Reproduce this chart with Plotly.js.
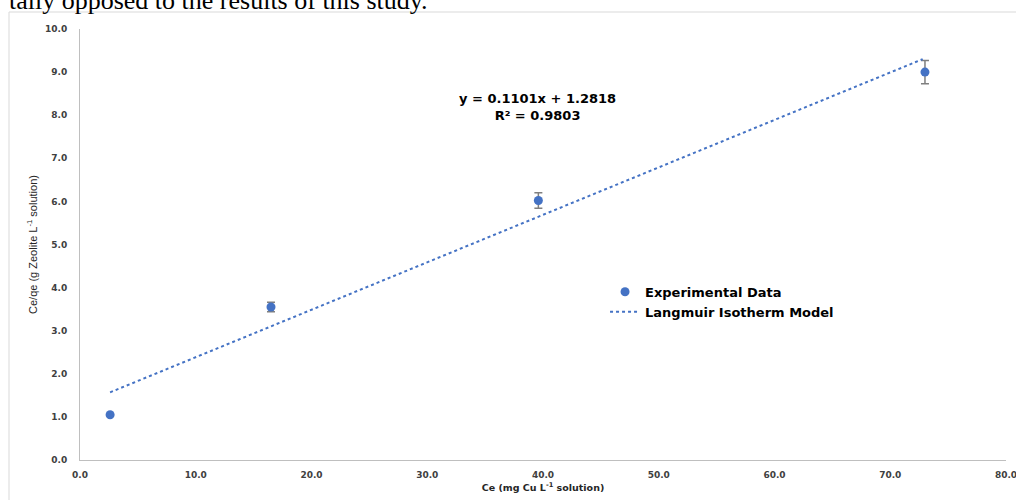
<!DOCTYPE html>
<html><head><meta charset="utf-8">
<script src="https://cdn.plot.ly/plotly-3.0.1.min.js"></script>
<style>html,body{margin:0;padding:0;background:#fff}#chart{width:1016px;height:500px}</style>
</head><body><div id="chart"></div>
<script>
// Experimental data
const ceValues = [2.6, 16.5, 39.6, 73.0];
const ceQeValues = [1.05, 3.55, 6.02, 9.0];
const errorValues = [0.0, 0.11, 0.18, 0.27];
// Langmuir trend line endpoints
const trendX = [2.6, 72.8];
const trendY = [1.57, 9.30];
const xTicks = [0, 10, 20, 30, 40, 50, 60, 70, 80];
const yTicks = [0, 1, 2, 3, 4, 5, 6, 7, 8, 9, 10];

const blue = '#4472C4';
const data = [
  {x: ceValues, y: ceQeValues, type: 'scatter', mode: 'markers', name: 'Experimental Data',
   marker: {color: blue, size: 9},
   error_y: {type: 'data', array: errorValues, visible: true, color: '#7f7f7f', thickness: 1.5, width: 4}},
  {x: trendX, y: trendY, type: 'scatter', mode: 'lines', name: 'Langmuir Isotherm Model',
   line: {color: blue, width: 2, dash: 'dot'}}
];
const tickFont = {family: 'DejaVu Sans', size: 9, color: '#404040', weight: 'bold'};
const layout = {
  width: 1016, height: 500,
  margin: {l: 80, r: 10, t: 29, b: 40},
  paper_bgcolor: '#fff', plot_bgcolor: '#fff',
  showlegend: true,
  legend: {x: 0.567, y: 0.425, xanchor: 'left', yanchor: 'top', bgcolor: 'rgba(0,0,0,0)',
           font: {family: 'DejaVu Sans', size: 13, color: '#000', weight: 'bold'}, tracegroupgap: 0},
  xaxis: {range: [0, 80], tickvals: xTicks, ticktext: xTicks.map(v => v.toFixed(1)),
          showgrid: false, zeroline: false, showline: true, linecolor: '#bfbfbf', linewidth: 1,
          ticks: '', tickfont: tickFont, ticklabelstandoff: 6, ticklabeloverflow: 'allow',
          title: {text: 'Ce (mg Cu L<sup>-1</sup> solution)', standoff: 5,
                  font: {family: 'DejaVu Sans', size: 9.5, color: '#262626', weight: 'bold'}}},
  yaxis: {range: [0, 10], tickvals: yTicks, ticktext: yTicks.map(v => v.toFixed(1)),
          showgrid: false, zeroline: false, showline: true, linecolor: '#bfbfbf', linewidth: 1,
          ticks: '', tickfont: tickFont, ticklabelstandoff: 10,
          title: {text: 'Ce/qe (g Zeolite L<sup>-1</sup> solution)', standoff: 5,
                  font: {family: 'Liberation Sans', size: 11, color: '#262626'}}},
  annotations: [
    {xref: 'paper', yref: 'paper', x: 0.4946, y: 0.818, xanchor: 'center', yanchor: 'middle',
     text: 'y = 0.1101x + 1.2818<br>R² = 0.9803', showarrow: false, align: 'center',
     font: {family: 'DejaVu Sans', size: 13, color: '#000', weight: 'bold'}},
    {xref: 'paper', yref: 'paper', x: (430 - 80) / 926, y: 1 + (12 / 431), xanchor: 'right', yanchor: 'bottom',
     text: 'tally opposed to the results of this study.', showarrow: false,
     font: {family: 'Liberation Serif', size: 26, color: '#000'}}
  ],
  shapes: [
    {type: 'rect', xref: 'paper', yref: 'paper', x0: (9 - 80) / 926, x1: (1040 - 80) / 926,
     y0: -(50 / 431), y1: 1 + (17 / 431), line: {color: '#d9d9d9', width: 1}, fillcolor: 'rgba(0,0,0,0)', layer: 'below'}
  ]
};
Plotly.newPlot('chart', data, layout, {displayModeBar: false, staticPlot: true});
</script></body></html>
